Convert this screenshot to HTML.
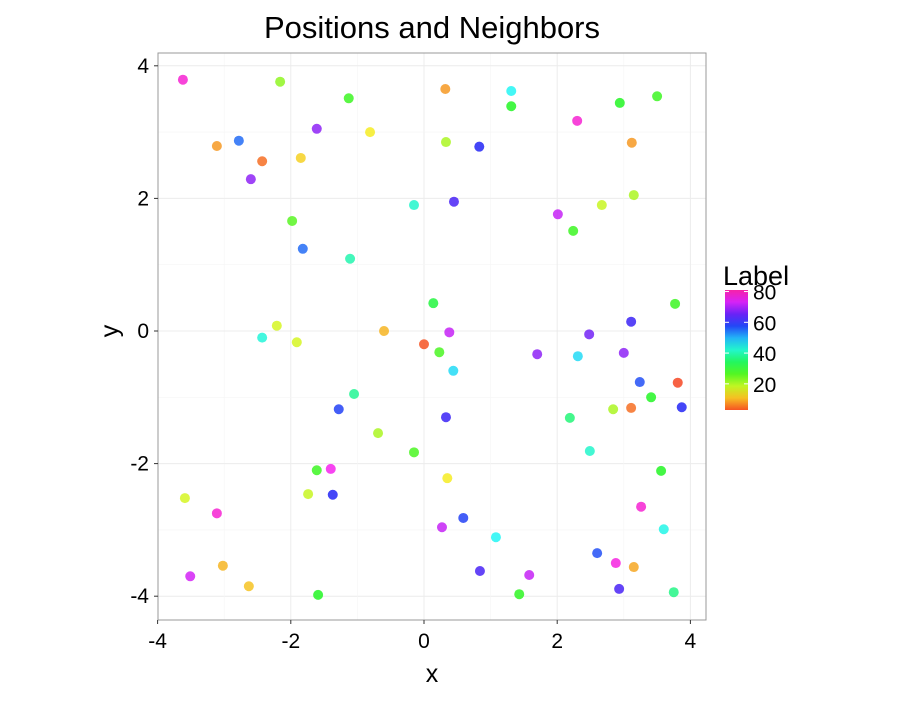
<!DOCTYPE html>
<html><head><meta charset="utf-8"><style>
body{margin:0;background:#fff;font-family:"Liberation Sans",sans-serif}
</style></head><body>
<svg id="chart" width="900" height="700" xmlns="http://www.w3.org/2000/svg">
<defs><linearGradient id="lg" x1="0" y1="1" x2="0" y2="0"></linearGradient></defs>
<rect x="0" y="0" width="900" height="700" fill="#fff"/>
<g id="grid"></g>
<g id="pts"></g>
<g id="axes"></g>
<text x="432" y="38" font-size="31" text-anchor="middle" fill="#000">Positions and Neighbors</text>
<text x="432" y="682" font-size="25" text-anchor="middle">x</text>
<text x="0" y="0" font-size="25" text-anchor="middle" transform="translate(118,331) rotate(-90)">y</text>
<g id="legend"></g>
</svg>
<script>
const xs=[-3.62,-2.16,-1.13,0.32,1.31,1.31,2.94,3.5,-3.11,-2.78,-2.43,-2.6,-1.85,-1.61,-0.81,0.33,0.83,2.3,3.12,3.15,2.67,2.01,2.24,-0.15,0.45,-1.98,-1.82,-1.11,0.14,-2.21,-2.43,-1.91,-0.6,0,0.23,0.38,0.44,1.7,2.48,2.31,3.0,3.11,3.77,3.24,3.81,3.41,3.87,3.11,2.84,2.19,-1.05,-1.28,-0.69,0.33,-0.15,2.49,-1.61,-1.4,3.56,-3.59,-1.74,-1.37,0.35,-3.11,0.27,0.59,1.08,3.26,3.6,2.6,2.88,3.15,-3.02,-3.51,-2.63,0.84,1.58,1.43,2.93,-1.59,3.75];
const ys=[3.79,3.76,3.51,3.65,3.62,3.39,3.44,3.54,2.79,2.87,2.56,2.29,2.61,3.05,3.0,2.85,2.78,3.17,2.84,2.05,1.9,1.76,1.51,1.9,1.95,1.66,1.24,1.09,0.42,0.08,-0.1,-0.17,0,-0.2,-0.32,-0.02,-0.6,-0.35,-0.05,-0.38,-0.33,0.14,0.41,-0.77,-0.78,-1.0,-1.15,-1.16,-1.18,-1.31,-0.95,-1.18,-1.54,-1.3,-1.83,-1.81,-2.1,-2.08,-2.11,-2.52,-2.46,-2.47,-2.22,-2.75,-2.96,-2.82,-3.11,-2.65,-2.99,-3.35,-3.5,-3.56,-3.54,-3.7,-3.85,-3.62,-3.68,-3.97,-3.89,-3.98,-3.94];
const labels=[78,22,28,8,45,30,30,28,8,55,5,68,12,68,14,20,60,78,8,20,18,72,28,42,63,26,55,40,32,17,43,17,10,3,27,72,47,68,66,47,68,62,28,57,2,30,60,5,20,36,38,58,20,62,27,42,28,76,30,17,18,60,14,78,72,58,45,78,44,57,77,9,10,73,11,63,72,29,63,30,37];
const xTicks=[-4,-2,0,2,4], yTicks=[-4,-2,0,2,4], legTicks=[20,40,60,80];
const NS="http://www.w3.org/2000/svg";
const L=158,R=706,T=53,B=620;
const sx=v=>424+v*66.6, sy=v=>331-v*66.3;
const lmin=3,lmax=81,lTop=290,lBot=410;
const ly=v=>lBot-(v-lmin)/(lmax-lmin)*(lBot-lTop);
const col=v=>`hsl(${2+v*3.95},92%,55%)`;
function mk(tag,at,parent){const e=document.createElementNS(NS,tag);for(const k in at)e.setAttribute(k,at[k]);parent.appendChild(e);return e;}
const grid=document.getElementById('grid'),pts=document.getElementById('pts'),axes=document.getElementById('axes'),leg=document.getElementById('legend');
mk('rect',{x:L,y:T,width:R-L,height:B-T,fill:'#fff'},grid);
for(let v=-5;v<=5;v++){
  const X=sx(v),Y=sy(v),minor=v%2!==0;
  if(X>L&&X<R){const l=mk('line',{x1:X,x2:X,y1:T,y2:B,stroke:minor?'#f5f5f5':'#ececec','stroke-width':minor?0.6:1},grid);}
  if(Y>T&&Y<B){const l=mk('line',{y1:Y,y2:Y,x1:L,x2:R,stroke:minor?'#f5f5f5':'#ececec','stroke-width':minor?0.6:1},grid);}
}
xs.forEach((x,i)=>{
  const c=mk('circle',{cx:sx(x),cy:sy(ys[i]),r:5,fill:col(labels[i]),'fill-opacity':0.85},pts);
  
  
});
mk('rect',{x:L,y:T,width:R-L,height:B-T,fill:'none',stroke:'#999','stroke-width':1},axes);
xTicks.forEach(v=>{
  mk('line',{x1:sx(v),x2:sx(v),y1:B,y2:B+4,stroke:'#333'},axes);
  const t=mk('text',{x:sx(v),y:B+28,'font-size':21,'text-anchor':'middle'},axes);t.textContent=v;
  
});
yTicks.forEach(v=>{
  mk('line',{x1:L-4,x2:L,y1:sy(v),y2:sy(v),stroke:'#333'},axes);
  const t=mk('text',{x:L-9,y:sy(v)+7,'font-size':21,'text-anchor':'end'},axes);t.textContent=v;
  
});
const lg=document.getElementById('lg');
for(let i=0;i<=10;i++){const v=lmin+(lmax-lmin)*i/10;mk('stop',{offset:i/10,'stop-color':col(v)},lg);}
const lt=mk('text',{x:723,y:285,'font-size':27},leg);lt.textContent='Label';

const bar=mk('rect',{x:725,y:lTop,width:23,height:lBot-lTop,fill:'url(#lg)'},leg);

legTicks.forEach(v=>{
  mk('line',{x1:725,x2:729,y1:ly(v),y2:ly(v),stroke:'#fff'},leg);
  mk('line',{x1:744,x2:748,y1:ly(v),y2:ly(v),stroke:'#fff'},leg);
  const t=mk('text',{x:753,y:ly(v)+8,'font-size':21},leg);t.textContent=v;
  
});
</script>
</body></html>
